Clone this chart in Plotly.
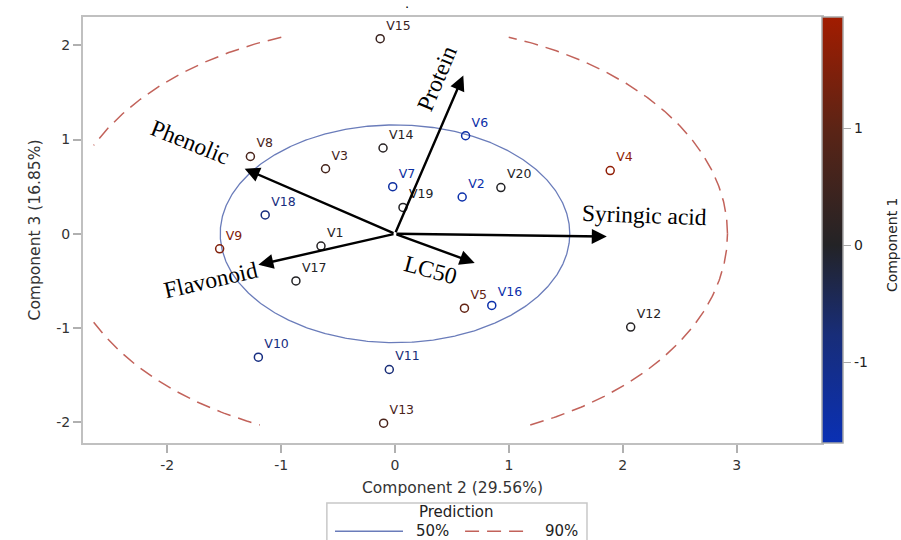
import numpy as np
import plotly.graph_objects as go
from plotly.colors import sample_colorscale

# ---------------- data ----------------
labels = ["V1", "V2", "V3", "V4", "V5", "V6", "V7", "V8", "V9", "V10",
          "V11", "V12", "V13", "V14", "V15", "V16", "V17", "V18", "V19", "V20"]
comp2 = [-0.65, 0.59, -0.61, 1.89, 0.61, 0.62, -0.02, -1.27, -1.54, -1.20,
         -0.05, 2.07, -0.10, -0.105, -0.13, 0.85, -0.87, -1.14, 0.07, 0.93]
comp3 = [-0.13, 0.39, 0.69, 0.67, -0.79, 1.04, 0.50, 0.82, -0.16, -1.31,
         -1.44, -0.99, -2.01, 0.91, 2.07, -0.76, -0.50, 0.20, 0.28, 0.49]
comp1 = [0.05, -1.55, 0.6, 1.7, 1.1, -1.5, -1.4, 0.7, 1.5, -0.9,
         -0.75, 0.05, 0.7, 0.1, 0.4, -1.55, 0.0, -0.85, 0.0, 0.0]

variables = ["Protein", "Phenolic", "Syringic acid", "Flavonoid", "LC50"]
load_x = [0.60, -1.32, 1.86, -1.20, 0.70]
load_y = [1.68, 0.69, -0.03, -0.33, -0.31]

x_ticks = [-2, -1, 0, 1, 2, 3]
y_ticks = [-2, -1, 0, 1, 2]
c_ticks = [-1, 0, 1]

# prediction ellipses: (center x, center y, semi-axis x, semi-axis y)
ellipse50 = (0.0, 0.0, 1.535, 1.155)
ellipse90 = (0.0, 0.0, 2.92, 2.22)
clip90 = (-2.65, 9.0, -2.03, 2.09)   # xmin, xmax, ymin, ymax of drawn 90% ellipse

# ---------------- styling ----------------
CMIN, CMAX = -1.69, 1.95
z0 = (0 - CMIN) / (CMAX - CMIN)
cscale = [[0.0, "#0a30b4"], [z0 * 0.55, "#182d78"], [z0, "#232326"],
          [z0 + (1 - z0) * 0.5, "#5a2416"], [1.0, "#a21c00"]]
norm = [(v - CMIN) / (CMAX - CMIN) for v in comp1]
pt_colors = sample_colorscale(cscale, norm)

FONT = "DejaVu Sans"
SERIF = "Liberation Serif"

def hy(v):
    return str(v).replace("\u2212", "-")

fig = go.Figure()

t = np.linspace(0, 2 * np.pi, 721)

cx, cy, a, b = ellipse50
fig.add_trace(go.Scatter(x=cx + a * np.cos(t), y=cy + b * np.sin(t), mode="lines",
                         line=dict(color="#6a7cba", width=1.3), hoverinfo="skip",
                         showlegend=False))

cx, cy, a, b = ellipse90
ex = cx + a * np.cos(t)
ey = cy + b * np.sin(t)
mask = (ex < clip90[0]) | (ex > clip90[1]) | (ey < clip90[2]) | (ey > clip90[3])
ex = np.where(mask, np.nan, ex)
ey = np.where(mask, np.nan, ey)
fig.add_trace(go.Scatter(x=ex, y=ey, mode="lines", connectgaps=False,
                         line=dict(color="#c2625a", width=1.5, dash="14px,8px"),
                         hoverinfo="skip", showlegend=False))

fig.add_trace(go.Scatter(
    x=comp2, y=comp3, mode="markers+text", text=labels, textposition="top right",
    textfont=dict(family=FONT, size=12.5, color=pt_colors),
    marker=dict(symbol="circle-open", size=8, color=comp1, colorscale=cscale,
                cmin=CMIN, cmax=CMAX, line=dict(width=1.5),
                colorbar=dict(x=1.0, xanchor="left", xpad=0, y=0.5, yanchor="middle",
                              ypad=0, len=1, lenmode="fraction", thickness=21,
                              outlinewidth=1.5, outlinecolor="#a8a8a8",
                              ticks="outside", ticklen=8, tickcolor="#a8a8a8",
                              tickvals=c_ticks, ticktext=[hy(v) for v in c_ticks],
                              tickfont=dict(family=FONT, size=14, color="#222"))),
    showlegend=False, hoverinfo="text"))

# loading arrows
for xv, yv in zip(load_x, load_y):
    fig.add_annotation(x=xv, y=yv, ax=0, ay=0, xref="x", yref="y", axref="x", ayref="y",
                       text="", showarrow=True, arrowhead=2, arrowsize=1.25,
                       arrowwidth=2.4, arrowcolor="black", standoff=0, startstandoff=0)

# loading labels (position and angle of each label)
lab_pos = {"Protein": (0.37, 1.65, -67), "Phenolic": (-1.80, 0.97, 22),
           "Syringic acid": (2.19, 0.20, 2), "Flavonoid": (-1.62, -0.49, -13),
           "LC50": (0.32, -0.38, 15)}
for name in variables:
    px, py, ang = lab_pos[name]
    fig.add_annotation(x=px, y=py, xref="x", yref="y", text=name, showarrow=False,
                       textangle=ang, xanchor="center", yanchor="middle",
                       font=dict(family=SERIF, size=23.5, color="black"))

# colorbar title
fig.add_annotation(x=1.095, y=0.465, xref="paper", yref="paper", text="Component 1",
                   textangle=-90, showarrow=False, xanchor="center", yanchor="middle",
                   font=dict(family=FONT, size=14, color="#222"))
# stray dot at top
fig.add_annotation(x=0.438, y=1.009, xref="paper", yref="paper", text=".",
                   showarrow=False, xanchor="center", yanchor="bottom",
                   font=dict(family=FONT, size=13, color="black"))

# manual legend
fig.add_shape(type="rect", xref="paper", yref="paper", x0=0.330, x1=0.682,
              y0=-0.141, y1=-0.245, line=dict(color="#c8c8c8", width=1.5),
              fillcolor="white")
fig.add_annotation(x=0.505, y=-0.162, xref="paper", yref="paper", text="Prediction",
                   showarrow=False, xanchor="center", yanchor="middle",
                   font=dict(family=FONT, size=15, color="#222"))
fig.add_shape(type="line", xref="paper", yref="paper", x0=0.341, x1=0.433,
              y0=-0.207, y1=-0.207, line=dict(color="#6a7cba", width=1.5))
fig.add_annotation(x=0.448, y=-0.207, xref="paper", yref="paper", text="50%",
                   showarrow=False, xanchor="left", yanchor="middle",
                   font=dict(family=FONT, size=15, color="#222"))
fig.add_shape(type="line", xref="paper", yref="paper", x0=0.517, x1=0.602,
              y0=-0.207, y1=-0.207, line=dict(color="#c2625a", width=1.5, dash="14px,8px"))
fig.add_annotation(x=0.622, y=-0.207, xref="paper", yref="paper", text="90%",
                   showarrow=False, xanchor="left", yanchor="middle",
                   font=dict(family=FONT, size=15, color="#222"))

axis_common = dict(showgrid=False, zeroline=False, showline=True, mirror=True,
                   linecolor="#c0c0c0", linewidth=2, ticks="outside", ticklen=8,
                   tickcolor="#b0b0b0", tickwidth=1.5, automargin=False,
                   tickfont=dict(family=FONT, size=14, color="#333"))
fig.update_layout(
    width=901, height=540,
    margin=dict(l=83, r=79, t=17, b=97),
    paper_bgcolor="white", plot_bgcolor="white",
    xaxis=dict(range=[-2.74, 3.75], tickvals=x_ticks, ticktext=[hy(v) for v in x_ticks],
               title=dict(text="Component 2 (29.56%)", standoff=10,
                          font=dict(family=FONT, size=15.5, color="#333")),
               **axis_common),
    yaxis=dict(range=[-2.22, 2.30], tickvals=y_ticks, ticktext=[hy(v) for v in y_ticks],
               title=dict(text="Component 3 (16.85%)", standoff=12,
                          font=dict(family=FONT, size=15.5, color="#333")),
               **axis_common),
)

fig.write_html("out.html", config={"displayModeBar": False},
               post_script="document.body.style.margin='0';document.body.style.padding='0';")
